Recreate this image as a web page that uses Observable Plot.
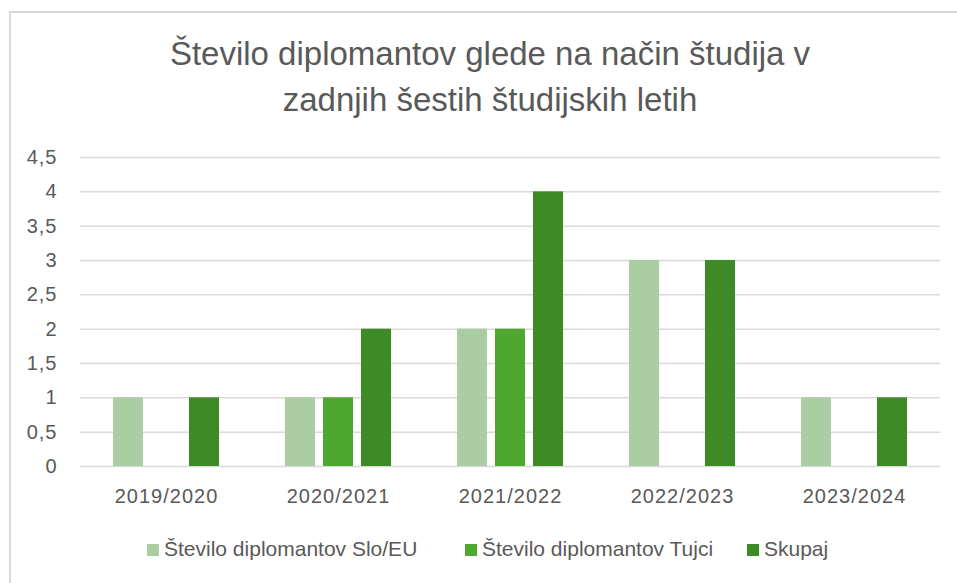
<!DOCTYPE html>
<html>
<head>
<meta charset="utf-8">
<script src="https://cdn.jsdelivr.net/npm/d3@7"></script>
<script src="https://cdn.jsdelivr.net/npm/@observablehq/plot@0.6"></script>
<style>
  html, body { margin: 0; padding: 0; background: #fff; }
  #wrap { position: relative; width: 957px; height: 583px; overflow: hidden; background: #fff; }
  #frame { position: absolute; left: 8.5px; top: 11px; width: 1000px; height: 700px;
           border-left: 2px solid #d9d9d9; border-top: 2px solid #d9d9d9; }
  #title { position: absolute; left: 10px; width: 960px; top: 31px; text-align: center;
           font-family: "Liberation Sans", Arial, sans-serif;
           font-size: 33px; line-height: 46px; color: #595959; }
  #chart { position: absolute; left: 0; top: 140px; }
  #chart svg text { letter-spacing: 1px; }
  .lg { position: absolute; top: 537px; font-family: "Liberation Sans", Arial, sans-serif;
        font-size: 21px; line-height: 24px; color: #595959; white-space: nowrap; }
  .sw { display: inline-block; width: 12px; height: 12px; margin-right: 5px; vertical-align: 0px; }
</style>
</head>
<body>
<div id="wrap">
  <div id="frame"></div>
  <div id="title">Število diplomantov glede na način študija v<br>zadnjih šestih študijskih letih</div>
  <div id="chart"></div>
  <div id="legend"></div>
</div>
<script>
const years = ["2019/2020", "2020/2021", "2021/2022", "2022/2023", "2023/2024"];
const series = ["Število diplomantov Slo/EU", "Število diplomantov Tujci", "Skupaj"];
const sloEU = [1, 1, 2, 3, 1];
const tujci = [0, 1, 2, 0, 0];
const skupaj = [1, 2, 4, 3, 1];
const colors = ["#ABCDA3", "#4EA72E", "#3E8A26"];
const yTicks = [0, 0.5, 1, 1.5, 2, 2.5, 3, 3.5, 4, 4.5];

const values = [sloEU, tujci, skupaj];
const data = years.flatMap((yr, i) => series.map((s, j) => ({year: yr, series: s, value: values[j][i]})));

const chart = Plot.plot({
  width: 957,
  height: 370,
  marginLeft: 80,
  marginRight: 17,
  marginTop: 17,
  marginBottom: 44,
  style: {fontFamily: "'Liberation Sans', Arial, sans-serif", fontSize: "20px", color: "#595959", background: "transparent"},
  fx: {domain: years, padding: 0, label: null, tickSize: 0, tickPadding: 22},
  x: {domain: series, paddingInner: 8 / 38, paddingOuter: 0.868, axis: null},
  y: {domain: [0, 4.5], ticks: yTicks, tickFormat: d => String(d).replace(".", ","), label: null, tickSize: 0, tickPadding: 23},
  color: {domain: series, range: colors},
  marks: [
    Plot.ruleY(yTicks, {stroke: "#d9d9d9", strokeWidth: 1.5}),
    Plot.barY(data, {fx: "year", x: "series", y: "value", fill: "series"})
  ]
});
document.getElementById("chart").appendChild(chart);

const legendPos = [147, 465, 747];
const legend = document.getElementById("legend");
series.forEach((s, i) => {
  const d = document.createElement("div");
  d.className = "lg";
  d.style.left = legendPos[i] + "px";
  d.innerHTML = `<span class="sw" style="background:${colors[i]}"></span>${s}`;
  legend.appendChild(d);
});
</script>
</body>
</html>
